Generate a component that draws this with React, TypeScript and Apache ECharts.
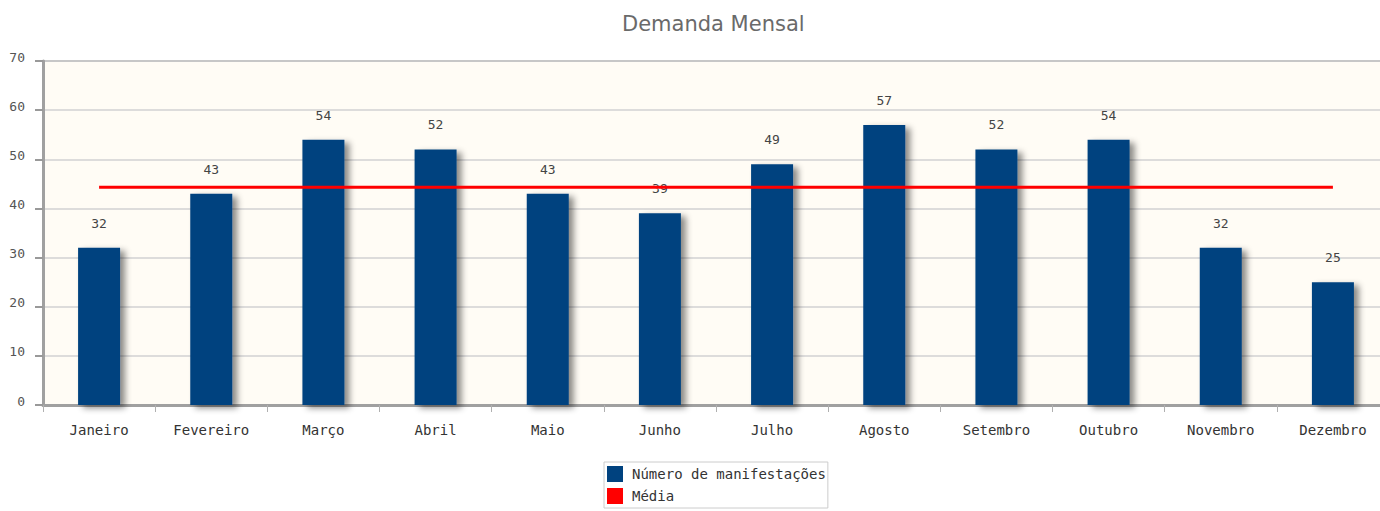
import React, { useEffect, useRef } from "react";
import * as echarts from "echarts";

const months = ["Janeiro", "Fevereiro", "Março", "Abril", "Maio", "Junho", "Julho", "Agosto", "Setembro", "Outubro", "Novembro", "Dezembro"];
const manifestacoes = [32, 43, 54, 52, 43, 39, 49, 57, 52, 54, 32, 25];
const media = [44.33, 44.33, 44.33, 44.33, 44.33, 44.33, 44.33, 44.33, 44.33, 44.33, 44.33, 44.33];

const MONO = "'DejaVu Sans Mono', monospace";

export default function App() {
  const ref = useRef<HTMLDivElement>(null);
  useEffect(() => {
    if (!ref.current) return;
    const chart = echarts.init(ref.current, undefined, { renderer: "svg" });
    chart.setOption({
      animation: false,
      backgroundColor: "#ffffff",
      title: {
        text: "Demanda Mensal",
        left: 617,
        top: 8,
        textStyle: { fontFamily: "'DejaVu Sans', sans-serif", fontSize: 21, fontWeight: "normal", color: "#6a6a6a" },
      },
      legend: {
        orient: "vertical",
        left: 604,
        top: 462,
        itemWidth: 16,
        itemHeight: 16,
        itemGap: 6,
        padding: [4, 2, 4, 3],
        borderColor: "#ccc",
        borderWidth: 1,
        backgroundColor: "#fff",
        textStyle: { fontFamily: MONO, fontSize: 14, color: "#333", padding: [0, 0, 0, 4] },
        data: [
          { name: "Número de manifestações", icon: "rect" },
          { name: "Média", icon: "rect", itemStyle: { color: "#ff0000" } },
        ],
      },
      grid: {
        left: 43,
        width: 1346,
        top: 61,
        bottom: 106,
        outerBoundsMode: "none",
        containLabel: false,
        show: true,
        backgroundColor: "#FFFCF5",
        borderColor: "#a8a8a8",
        borderWidth: 2,
      },
      xAxis: {
        type: "category",
        data: months,
        boundaryGap: true,
        axisLine: { lineStyle: { color: "#a0a0a0", width: 3 } },
        axisTick: { show: true, length: 7, lineStyle: { color: "#b0b0b0", width: 1 } },
        axisLabel: { fontFamily: MONO, fontSize: 14, color: "#333", margin: 18 },
      },
      yAxis: {
        type: "value",
        min: 0,
        max: 70,
        interval: 10,
        axisLine: { show: true, lineStyle: { color: "#a0a0a0", width: 3 } },
        axisTick: { show: true, length: 8, lineStyle: { color: "#999", width: 2 } },
        axisLabel: { fontFamily: MONO, fontSize: 13, color: "#555", margin: 18, verticalAlign: "bottom", lineHeight: 8 },
        splitLine: { show: true, lineStyle: { color: "#d2d2d2", width: 1.5 } },
      },
      series: [
        {
          name: "Número de manifestações",
          type: "bar",
          data: manifestacoes,
          barWidth: 42,
          itemStyle: {
            color: "#00427F",
            shadowColor: "rgba(0,0,0,0.45)",
            shadowBlur: 6,
            shadowOffsetX: 5,
            shadowOffsetY: 3,
          },
          label: { show: true, position: "top", distance: 18, fontFamily: MONO, fontSize: 13, color: "#444" },
          z: 2,
        },
        {
          name: "Média",
          type: "line",
          data: media,
          symbol: "none",
          itemStyle: { color: "#ff0000" },
          lineStyle: { color: "#ff0000", width: 3 },
          z: 3,
        },
      ],
    });
    return () => chart.dispose();
  }, []);
  return <div ref={ref} style={{ position: "fixed", left: 0, top: 0, width: 1380, height: 511 }} />;
}
